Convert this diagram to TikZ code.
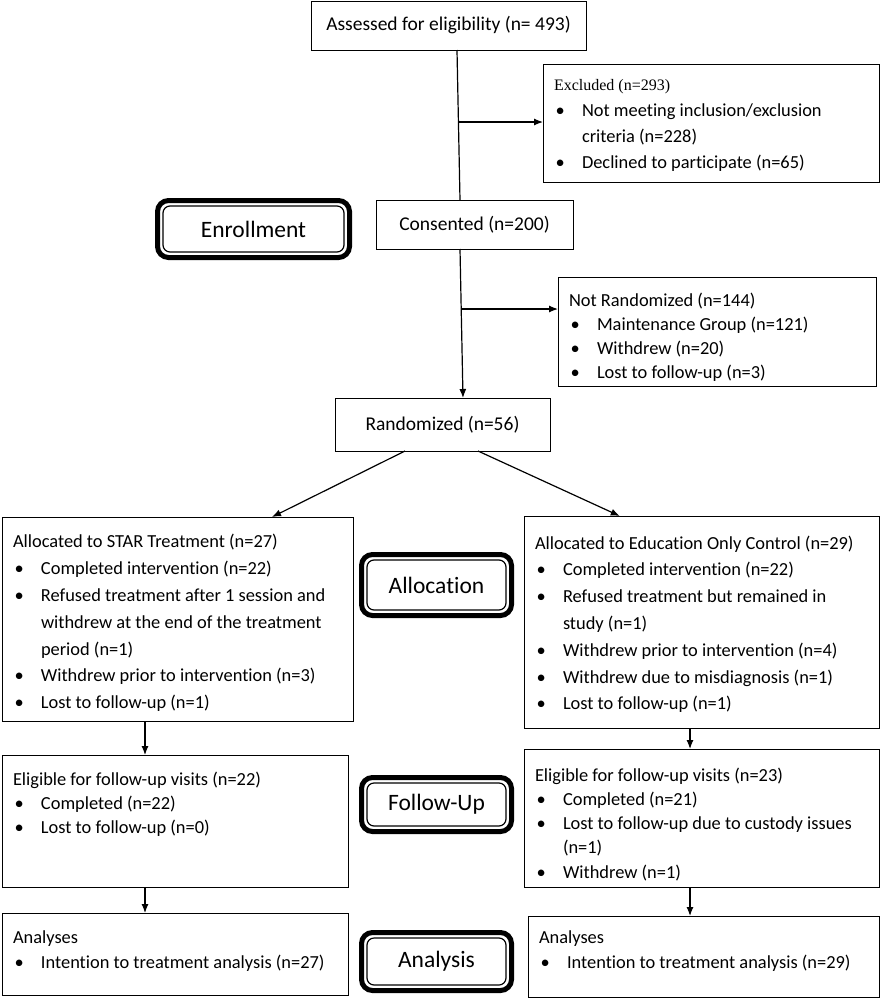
\documentclass[tikz,border=0pt]{standalone}
\usepackage{fontspec}
\setmainfont{Carlito}[Ligatures=NoCommon]
\newfontfamily\timesfont{Liberation Serif}
\usepackage{tikz}
\usetikzlibrary{positioning,calc,arrows.meta}
\tikzset{
  basic/.style   = {draw, line width=1pt, inner sep=0pt, outer sep=0pt},
  single/.style  = {basic, align=center, font=\fontsize{19.5}{22}\selectfont},
  listbox/.style = {basic, anchor=north west, inner xsep=11pt, inner ysep=0pt,
                    align=left, font=\fontsize{18.4}{26}\selectfont},
  stage/.style   = {draw, line width=1.2pt, rounded corners=7pt, outer sep=0pt,
                    font=\fontsize{23.5}{26}\selectfont,
                    append after command={\pgfextra{
                      \draw[line width=5pt, rounded corners=11pt]
                        ([shift={(-5.5pt,5.5pt)}]\tikzlastnode.north west) rectangle
                        ([shift={(5.5pt,-5.5pt)}]\tikzlastnode.south east);}}},
  post/.style    = {->, >={Latex[length=9pt,width=7pt]}, line width=1.2pt},
  line/.style    = {line width=1.2pt}
}
% bullet line with hanging indent
\newcommand{\bitem}[1]{\par\hangindent=28pt\hangafter=1\noindent\strut
  \makebox[28pt][l]{\hspace{1.5pt}\textbullet}#1\strut}
% width, height, top pad, text
\newcommand{\boxtext}[4]{\parbox[c][#2][t]{#1}{\raggedright\vspace*{#3}#4\par}}

\begin{document}
\begin{tikzpicture}[x=1pt,y=-1pt]
  \useasboundingbox (0,0) rectangle (881,999);

  % enrollment
  \node[single, minimum width=275pt, minimum height=49pt] (assess) at (448.5,25.5)
       {Assessed for eligibility (n= 493)};
  \node[listbox] (excl) at (543,64) {\boxtext{314.5pt}{118pt}{7.8pt}{%
    \strut{\timesfont\fontsize{16}{26}\selectfont Excluded (n=293)}
    \bitem{Not meeting inclusion/exclusion\newline criteria (n=228)}
    \bitem{Declined to participate (n=65)}}};
  \node[stage, minimum width=181pt, minimum height=46pt] (enroll) at (253.5,229) {Enrollment};
  \node[single, minimum width=197pt, minimum height=49pt] (consent) at (474.5,224.5)
       {Consented (n=200)};
  \node[listbox, font=\fontsize{18.4}{24}\selectfont] (notrand) at (558,277)
       {\boxtext{296pt}{109pt}{12.2pt}{%
    \strut Not Randomized (n=144)
    \bitem{Maintenance Group (n=121)}
    \bitem{Withdrew (n=20)}
    \bitem{Lost to follow-up (n=3)}}};
  \node[single, minimum width=215pt, minimum height=53pt] (rand) at (442.5,424.5)
       {Randomized (n=56)};

  % allocation
  \node[listbox, font=\fontsize{18.4}{26.8}\selectfont] (star) at (2,517)
       {\boxtext{329pt}{204pt}{12.2pt}{%
    \strut Allocated to STAR Treatment (n=27)
    \bitem{Completed intervention (n=22)}
    \bitem{Refused treatment after 1 session and\newline withdrew at the end of the treatment\newline period (n=1)}
    \bitem{Withdrew prior to intervention (n=3)}
    \bitem{Lost to follow-up (n=1)}}};
  \node[stage, minimum width=139pt, minimum height=50pt] (alloc) at (436.5,585) {Allocation};
  \node[listbox, font=\fontsize{18.4}{26.8}\selectfont] (ctrl) at (524,516)
       {\boxtext{333.5pt}{212pt}{14.3pt}{%
    \strut Allocated to Education Only Control (n=29)
    \bitem{Completed intervention (n=22)}
    \bitem{Refused treatment but remained in\newline study (n=1)}
    \bitem{Withdrew prior to intervention (n=4)}
    \bitem{Withdrew due to misdiagnosis (n=1)}
    \bitem{Lost to follow-up (n=1)}}};

  % follow-up
  \node[listbox, font=\fontsize{18.4}{24}\selectfont] (eligL) at (2,755)
       {\boxtext{324pt}{132pt}{13.2pt}{%
    \strut Eligible for follow-up visits (n=22)
    \bitem{Completed (n=22)}
    \bitem{Lost to follow-up (n=0)}}};
  \node[stage, minimum width=139pt, minimum height=43pt] (follow) at (436.5,804.5) {Follow-Up};
  \node[listbox, font=\fontsize{18.4}{24.3}\selectfont] (eligR) at (524,749)
       {\boxtext{333.5pt}{138pt}{15pt}{%
    \strut Eligible for follow-up visits (n=23)
    \bitem{Completed (n=21)}
    \bitem{Lost to follow-up due to custody issues\newline (n=1)}
    \bitem{Withdrew (n=1)}}};

  % analysis
  \node[listbox, font=\fontsize{18.4}{25}\selectfont] (analL) at (2,913)
       {\boxtext{324pt}{82pt}{12.5pt}{%
    \strut Analyses
    \bitem{Intention to treatment analysis (n=27)}}};
  \node[stage, minimum width=139pt, minimum height=47pt] (analysis) at (436.5,961.5) {Analysis};
  \node[listbox, font=\fontsize{18.4}{25}\selectfont] (analR) at (528,916)
       {\boxtext{329.5pt}{81pt}{9.5pt}{%
    \strut Analyses
    \bitem{Intention to treatment analysis (n=29)}}};

  % connectors
  \coordinate (b1) at (458,122);
  \coordinate (b2) at (461,309);
  \coordinate (colL) at (145,0);
  \coordinate (colR) at (690,0);
  \draw[line] ([xshift=8.5pt]assess.south) -- ([xshift=-14.5pt]consent.north);
  \draw[post] (b1) -- (b1 -| excl.west);
  \draw[post] ([xshift=-14.5pt]consent.south) -- ([xshift=20.5pt]rand.north);
  \draw[post] (b2) -- (b2 -| notrand.west);
  \draw[post] ([xshift=-37.5pt]rand.south) -- ([xshift=94.5pt]star.north);
  \draw[post] ([xshift=35.5pt]rand.south) -- ([xshift=-82pt]ctrl.north);
  \draw[post] (star.south -| colL) -- (eligL.north -| colL);
  \draw[post] (ctrl.south -| colR) -- (eligR.north -| colR);
  \draw[post] (eligL.south -| colL) -- (analL.north -| colL);
  \draw[post] (eligR.south -| colR) -- (analR.north -| colR);
\end{tikzpicture}
\end{document}
